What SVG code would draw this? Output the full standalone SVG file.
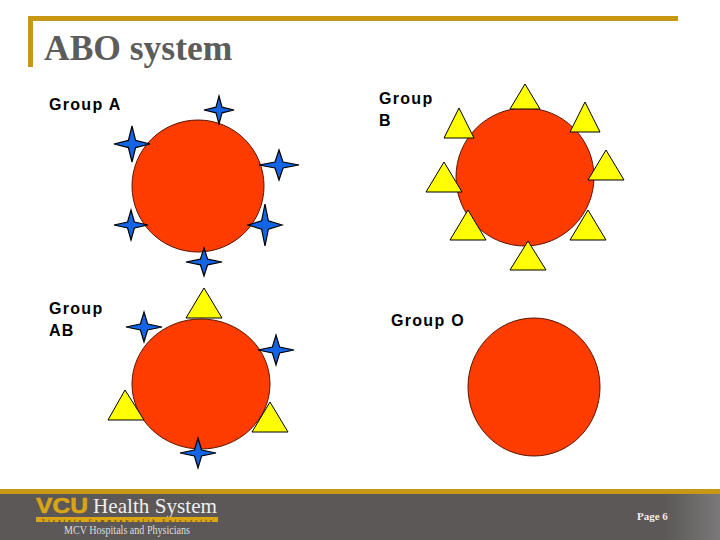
<svg xmlns="http://www.w3.org/2000/svg" width="720" height="540" viewBox="0 0 720 540">
<style>
.t{font-family:"Liberation Sans",Arial,sans-serif;font-size:16px;font-weight:bold;letter-spacing:1.3px;fill:#000}
.s{font-family:"Liberation Serif","Times New Roman",serif}
.c{fill:#ff3c00;stroke:#5a1400;stroke-width:1}
.y{fill:#ffff00;stroke:#000;stroke-width:1}
.b{fill:#1464e6;stroke:#000;stroke-width:1.2}
#st{vector-effect:non-scaling-stroke}
</style>
<defs>
<path id="st" d="M0-1L.2-.2 1 0 .2 .2 0 1-.2 .2-1 0-.2-.2Z"/>
<linearGradient id="fade" x1="0" x2="1"><stop offset="0" stop-color="#5c5858"/><stop offset="1" stop-color="#7a7878"/></linearGradient>
</defs>
<rect width="720" height="540" fill="#fff"/>
<g id="title-frame" fill="#c69814"><rect x="28" y="16" width="650" height="5"/><rect x="28" y="16" width="5" height="51"/></g>
<text id="title" class="s" x="44" y="60" font-size="35.5" font-weight="bold" fill="#5c5c5c">ABO system</text>

<g id="group-a">
<text class="t" x="49" y="110">Group A</text>
<circle class="c" cx="198" cy="186" r="66"/>
<g class="b">
<use href="#st" transform="translate(219 110) scale(15 14)"/>
<use href="#st" transform="translate(132 144) scale(18)"/>
<use href="#st" transform="translate(279 165) scale(20 15)"/>
<use href="#st" transform="translate(131 225) scale(17 15)"/>
<use href="#st" transform="translate(265 225) scale(17 21)"/>
<use href="#st" transform="translate(204 262) scale(18 14)"/>
</g>
</g>

<g id="group-b">
<text class="t" x="379" y="104">Group</text><text class="t" x="379" y="126">B</text>
<circle class="c" cx="525" cy="177" r="69"/>
<g class="y">
<path d="M525 84L510 109H540Z"/><path d="M459 108L444 138H474Z"/><path d="M585 102L570 132H600Z"/><path d="M606 150L588 180H624Z"/><path d="M444 162L426 192H462Z"/><path d="M468 210L450 240H486Z"/><path d="M588 210L570 240H606Z"/><path d="M528 241L510 270H546Z"/>
</g>
</g>

<g id="group-ab">
<text class="t" x="49" y="314">Group</text><text class="t" x="49" y="336">AB</text>
<ellipse class="c" cx="201" cy="384" rx="69" ry="65"/>
<g class="y"><path d="M204 288L186 318H222Z"/><path d="M125 390L108 420H144Z"/><path d="M270 402L252 432H288Z"/></g>
<g class="b">
<use href="#st" transform="translate(144 327) scale(18 15)"/>
<use href="#st" transform="translate(276 350) scale(18 15)"/>
<use href="#st" transform="translate(198 453) scale(18 15)"/>
</g>
</g>

<g id="group-o">
<text class="t" x="391" y="326">Group O</text>
<ellipse class="c" cx="534" cy="387" rx="66" ry="69"/>
</g>

<g id="footer">
<rect y="489" width="720" height="51" fill="#5c5858"/>
<rect x="665" y="494" width="55" height="46" fill="url(#fade)"/>
<rect y="489" width="720" height="5" fill="#c69814"/>
<text x="36" y="513" font-family="Liberation Sans,Arial,sans-serif" font-size="22" font-weight="bold" fill="#d9a514" stroke="#d9a514" stroke-width=".6" textLength="52" lengthAdjust="spacingAndGlyphs">VCU</text>
<text class="s" x="93" y="513" font-size="22" fill="#eeeeee" textLength="124" lengthAdjust="spacingAndGlyphs">Health System</text>
<rect x="36" y="517" width="182" height="5" fill="#d9a514"/>
<text class="s" x="42" y="521.5" font-size="4" font-weight="bold" fill="#4a4030" textLength="170">Virginia Commonwealth University</text>
<text class="s" x="64" y="534" font-size="11.5" fill="#dddddd" textLength="126" lengthAdjust="spacingAndGlyphs">MCV Hospitals and Physicians</text>
<text class="s" x="637" y="520" font-size="11" font-weight="bold" fill="#eeeeee">Page 6</text>
</g>
</svg>
